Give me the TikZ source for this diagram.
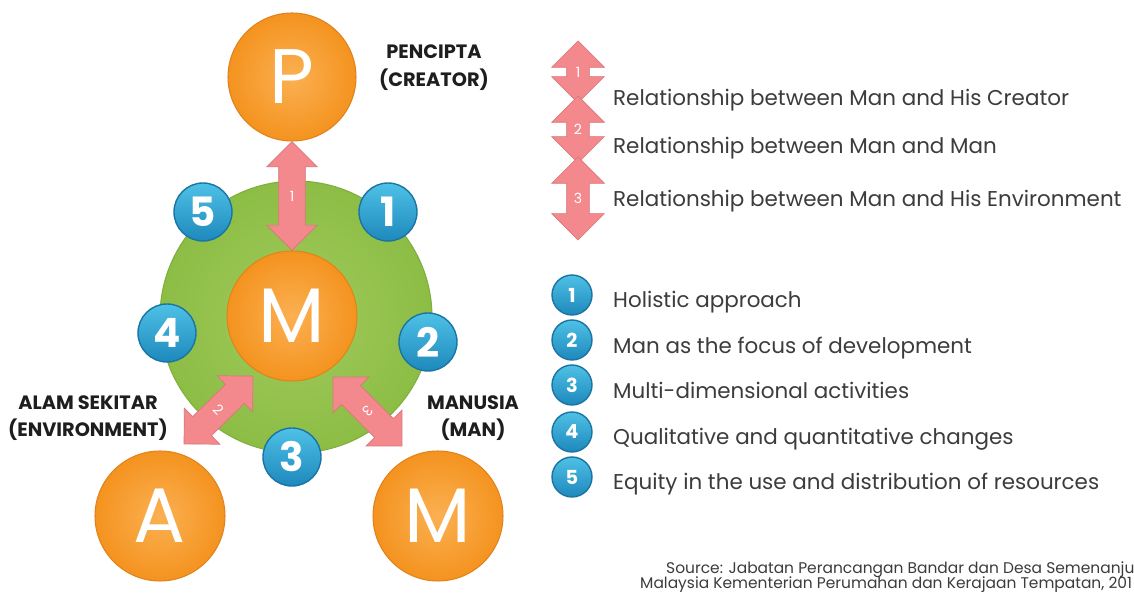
\documentclass[tikz,border=0pt]{standalone}
\usepackage{fontspec}
\setmainfont{Poppins}
\usetikzlibrary{shapes.arrows,calc,positioning}
\definecolor{orbfill}{HTML}{F4931F}
\definecolor{orblight}{HTML}{FBB052}
\definecolor{orbedge}{HTML}{E3821C}
\definecolor{ringgreen}{HTML}{8CBD45}
\definecolor{ringlight}{HTML}{A2CB5C}
\definecolor{ringedge}{HTML}{7FAF3B}
\definecolor{badgetop}{HTML}{4EC1E6}
\definecolor{badgebot}{HTML}{1E88BC}
\definecolor{badgeedge}{HTML}{1A75A3}
\definecolor{arrowpink}{HTML}{F3898D}
\definecolor{arrowedge}{HTML}{D8777B}
\definecolor{inktext}{HTML}{3C3C3C}
\definecolor{labelink}{HTML}{1E1E1E}
% fat two-headed arrow from #2 to #3, label #4 turned by #5
\newcommand\fatarrow[5][]{%
  \path let \p1=($(#3)-(#2)$), \n1={veclen(\x1,\y1)}, \n2={atan2(\y1,\x1)} in
    node[fatarr,#1,minimum height=\n1,rotate=\n2] at ($(#2)!0.5!(#3)$) {}
    node[arrlbl,rotate=#5] at ($(#2)!0.5!(#3)$) {#4};
}
\begin{document}
\begin{tikzpicture}[x=0.02cm,y=-0.02cm,
  orb/.style={circle,draw=orbedge,line width=0.6pt,inner color=orblight,outer color=orbfill,
    minimum size=2.6cm,inner sep=0pt,text=white,font=\fontsize{44}{44}\selectfont},
  badge/.style={circle,draw=badgeedge,line width=0.8pt,top color=badgetop,bottom color=badgebot,
    minimum size=1.16cm,inner sep=0pt,text=white,font=\bfseries\fontsize{23}{23}\selectfont},
  keybadge/.style={badge,minimum size=0.8cm,font=\bfseries\fontsize{11}{11}\selectfont},
  fatarr/.style={double arrow,fill=arrowpink,draw=arrowedge,line width=0.4pt,
    inner xsep=0pt,inner ysep=0.26cm,minimum width=1cm,
    double arrow head extend=0.24cm,double arrow tip angle=90},
  keyarr/.style={inner ysep=0.22cm,double arrow head extend=0.3cm},
  arrlbl/.style={text=white,inner sep=0pt,font=\fontsize{8}{8}\selectfont},
  tag/.style={align=center,text=labelink,font=\bfseries\fontsize{11}{16}\selectfont},
  keytext/.style={anchor=base west,text=inktext,font=\fontsize{12.2}{14}\selectfont},
  source/.style={anchor=base west,text=inktext,font=\fontsize{8.8}{10}\selectfont}]
\useasboundingbox[fill=white](0,0)rectangle(1134,594);

% the ring and the four orbs
\node[circle,draw=ringedge,line width=0.6pt,inner color=ringlight,outer color=ringgreen,
  minimum size=5.44cm](ring)at(296,317){};
\node[orb](core)at(292,316){M};
\node[orb,minimum size=2.56cm](creator)at(292,77){P};
\node[orb](env)at(160,516){A};
\node[orb](people)at(438,516){M};

% numbered badges round the ring
\node[badge](b5)at(203,212){5};
\node[badge](b1)at(388,212){1};
\node[badge](b4)at(167,333){4};
\node[badge](b2)at(428,342){2};
\node[badge](b3)at(292,457){3};

% relations
\coordinate(r2a)at(184,444);\coordinate(r2b)at(253,376);
\coordinate(r3a)at(402,446);\coordinate(r3b)at(333,377);
\fatarrow{creator.south}{core.north}{1}{0}
\fatarrow{r2a}{r2b}{2}{-45}
\fatarrow{r3a}{r3b}{3}{-135}

\node[tag](tagp)at(434,68){PENCIPTA\\(CREATOR)};
\node[tag,font=\bfseries\fontsize{11}{15}\selectfont](taga)at(88,418){ALAM SEKITAR\\(ENVIRONMENT)};
\node[tag,font=\bfseries\fontsize{11}{15}\selectfont](tagm)at(473,418){MANUSIA\\(MAN)};

% key: relations
\coordinate(k1a)at(578,41);\coordinate(k1b)at(578,103);
\coordinate(k2a)at(578,96);\coordinate(k2b)at(578,163);
\coordinate(k3a)at(578,157);\coordinate(k3b)at(578,240);
\fatarrow[keyarr]{k1a}{k1b}{1}{0}
\fatarrow[keyarr]{k2a}{k2b}{2}{0}
\fatarrow[keyarr]{k3a}{k3b}{3}{0}
\node[keytext](t1)at(607,106){Relationship between Man and His Creator};
\node[keytext](t2)at(607,154){Relationship between Man and Man};
\node[keytext](t3)at(607,207){Relationship between Man and His Environment};

% key: badges
\node[keybadge](kb1)at(572,295){1};
\node[keybadge](kb2)at(572,340){2};
\node[keybadge](kb3)at(572,385){3};
\node[keybadge](kb4)at(572,432){4};
\node[keybadge](kb5)at(572,477){5};
\node[keytext](p1)at(607,308){Holistic approach};
\node[keytext](p2)at(607,354){Man as the focus of development};
\node[keytext](p3)at(607,399){Multi-dimensional activities};
\node[keytext](p4)at(607,445){Qualitative and quantitative changes};
\node[keytext](p5)at(607,490){Equity in the use and distribution of resources};

\node[source](s1)at(660,574){Source: Jabatan Perancangan Bandar dan Desa Semenanjung};
\node[source](s2)at(634,589){Malaysia Kementerian Perumahan dan Kerajaan Tempatan, 201};
\end{tikzpicture}
\end{document}
